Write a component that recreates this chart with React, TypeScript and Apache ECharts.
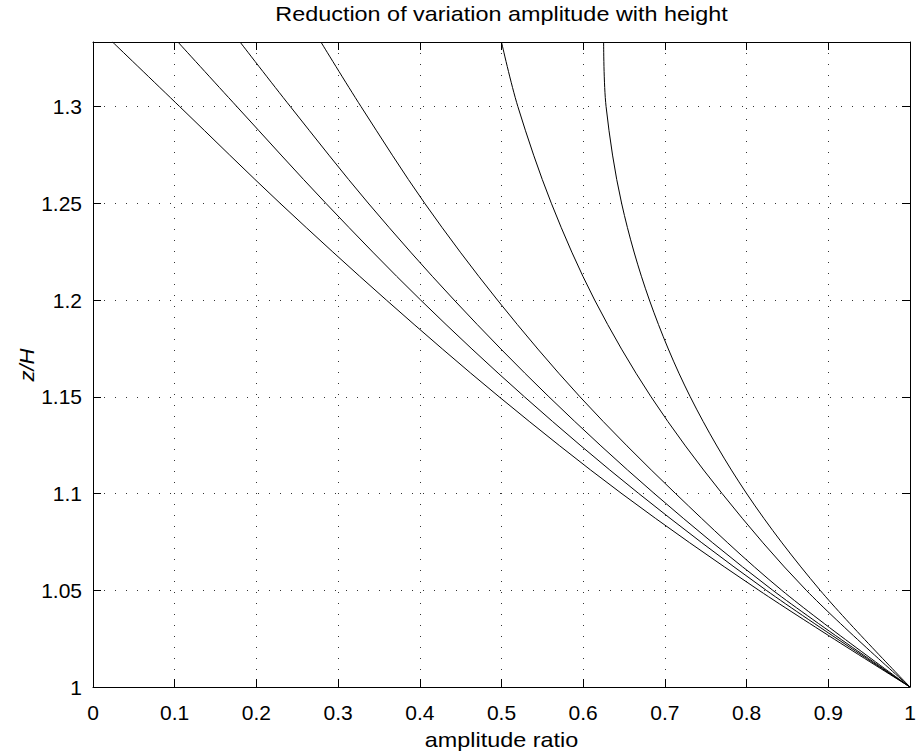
import React, { useEffect, useRef } from "react";
import * as echarts from "echarts";

const zLevels = [1, 1.05, 1.1, 1.15, 1.2, 1.25, 1.3, 1.3333];
const curve1 = [1, 0.815, 0.647, 0.497, 0.359, 0.229, 0.106, 0.024];
const curve2 = [1, 0.824, 0.668, 0.528, 0.401, 0.285, 0.176, 0.104];
const curve3 = [1, 0.832, 0.687, 0.558, 0.442, 0.337, 0.2415, 0.18];
const curve4 = [1, 0.843, 0.713, 0.596, 0.495, 0.406, 0.328, 0.279];
const curve5 = [1, 0.873, 0.77, 0.683, 0.614, 0.561, 0.52, 0.5];
const curve6 = [1, 0.89, 0.8, 0.731, 0.681, 0.647, 0.628, 0.625];
const curves = [curve1, curve2, curve3, curve4, curve5, curve6];

const titleText = "Reduction of variation amplitude with height";
const xName = "amplitude ratio";
const yName = "z/H";

const FONT = "'Liberation Sans', Arial, Helvetica, sans-serif";

export default function App() {
  const ref = useRef<HTMLDivElement>(null);
  useEffect(() => {
    if (!ref.current) return;
    const chart = echarts.init(ref.current, null, { renderer: "svg" });
    const gridLeft = 93;
    const gridRight = 13;
    const gridTop = 42;
    const gridBottom = 64;
    const plotCenter = gridLeft + (923 - gridLeft - gridRight) / 2;
    const split = { show: true, lineStyle: { color: "#333", width: 1, type: [1, 10] as any } };
    const tick = { show: true, inside: true, length: 8, lineStyle: { color: "#000", width: 1 } };
    const line = { show: true, onZero: false, lineStyle: { color: "#000", width: 1 } };
    const label = { color: "#000", fontSize: 21, fontFamily: FONT };
    chart.setOption({
      animation: false,
      backgroundColor: "#fff",
      grid: { left: gridLeft, right: gridRight, top: gridTop, bottom: gridBottom, show: false },
      xAxis: [
        {
          type: "value", min: 0, max: 1, interval: 0.1, position: "bottom",
          axisLine: line, axisTick: tick, splitLine: split,
          axisLabel: { ...label, margin: 15 },
        },
        {
          type: "value", min: 0, max: 1, interval: 0.1, position: "top",
          axisLine: line, axisTick: tick, splitLine: { show: false },
          axisLabel: { show: false },
        },
      ],
      yAxis: [
        {
          type: "value", min: 1, max: 4 / 3, interval: 0.05, position: "left",
          axisLine: line, axisTick: tick, splitLine: split,
          axisLabel: { ...label, margin: 11, showMaxLabel: false },
        },
        {
          type: "value", min: 1, max: 4 / 3, interval: 0.05, position: "right",
          axisLine: line, axisTick: tick, splitLine: { show: false },
          axisLabel: { show: false },
        },
      ],
      graphic: [
        {
          type: "text", x: plotCenter, y: 14, scaleX: 1.17,
          style: { text: titleText, fill: "#000", font: `20px ${FONT}`, textAlign: "center", textVerticalAlign: "middle" },
        },
        {
          type: "text", x: plotCenter, y: 740, scaleX: 1.17,
          style: { text: xName, fill: "#000", font: `20px ${FONT}`, textAlign: "center", textVerticalAlign: "middle" },
        },
        {
          type: "text", x: 27, y: 365, rotation: Math.PI / 2, scaleX: 1.1,
          style: { text: yName, fill: "#000", font: `italic 20px ${FONT}`, textAlign: "center", textVerticalAlign: "middle" },
        },
      ],
      series: curves.map((c, i) => ({
        type: "line",
        name: "c" + (i + 1),
        xAxisIndex: 0,
        yAxisIndex: 0,
        smooth: 0.33,
        symbol: "none",
        lineStyle: { color: "#000", width: 1 },
        data: c.map((x, j) => [x, zLevels[j]]),
      })),
    });
    return () => chart.dispose();
  }, []);
  return <div ref={ref} style={{ position: "fixed", left: 0, top: 0, width: 923, height: 751 }} />;
}
